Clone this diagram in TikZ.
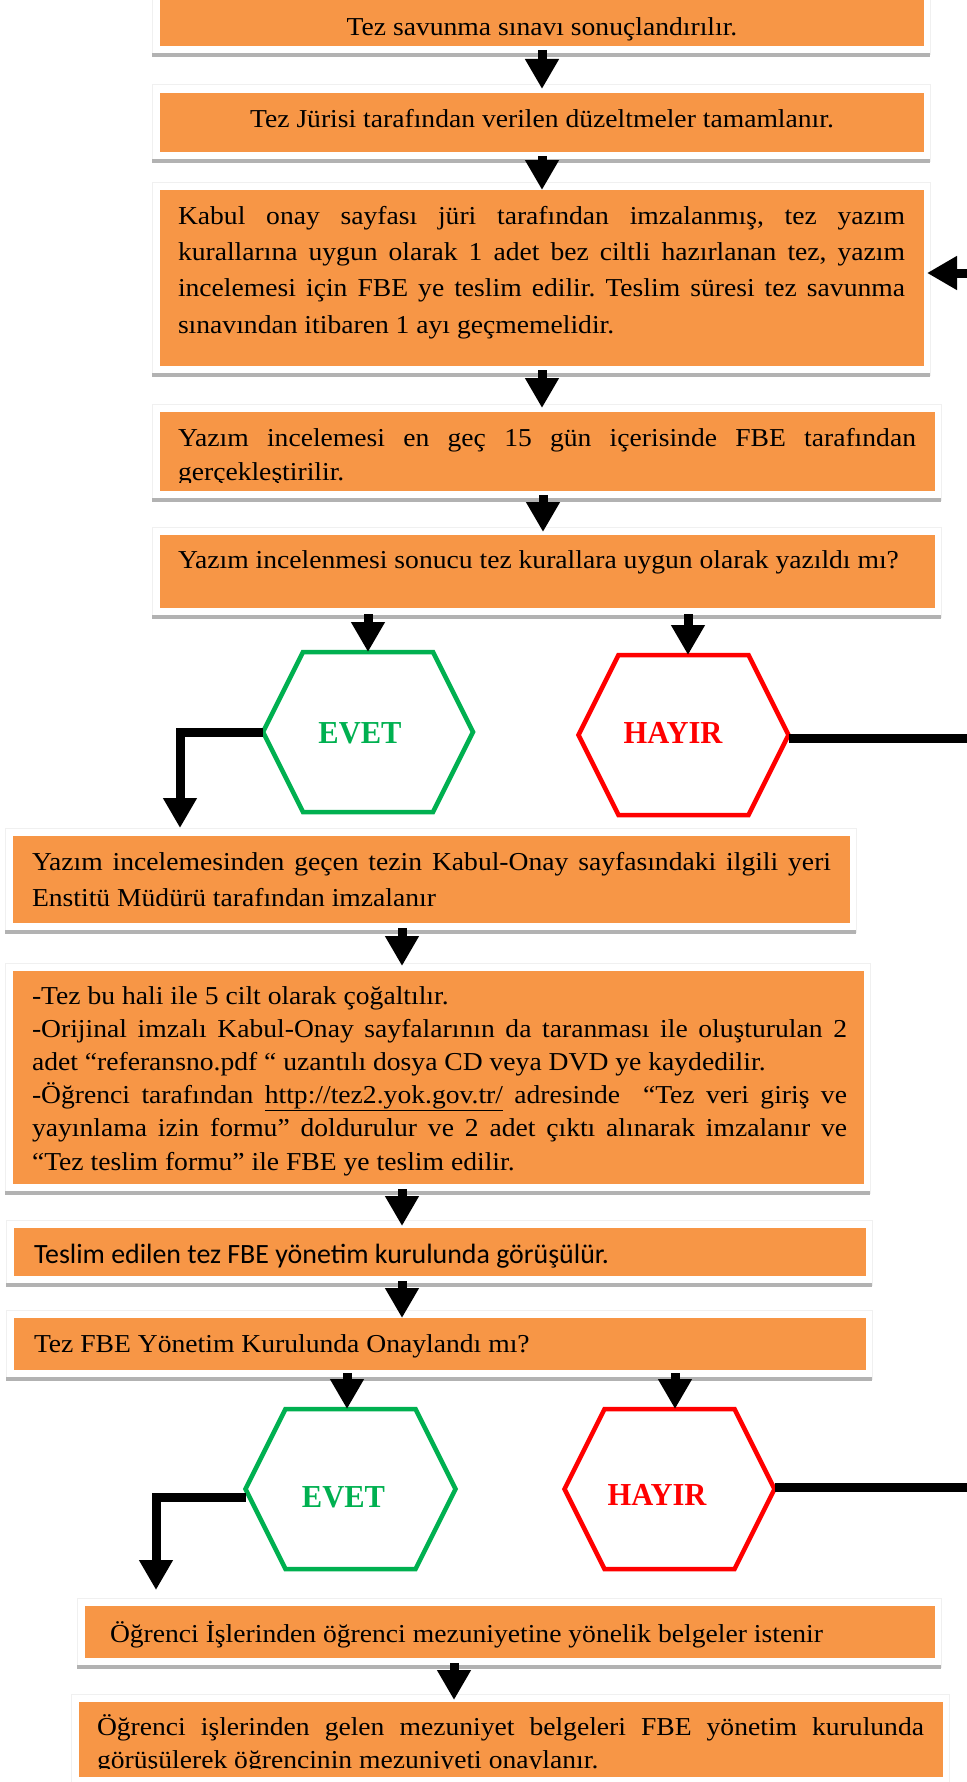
\documentclass[tikz,border=0pt]{standalone}
\usepackage{fontspec}
\setmainfont{Liberation Serif}[FakeStretch=1.07]
\newfontfamily\calibrifont{Carlito}
\newfontfamily\choicefont{Liberation Serif}[FakeStretch=0.953]
\usetikzlibrary{arrows.meta}

\definecolor{boxorange}{HTML}{F79646}
\definecolor{yesgreen}{HTML}{00B050}
\definecolor{nored}{HTML}{FF0000}

\tikzset{
  flowbox/.style={fill=boxorange, draw=none, anchor=north west, inner sep=0pt, outer sep=0pt},
  boxtext/.style={anchor=base west, inner sep=0pt, outer sep=0pt, font=\fontsize{25.8}{30}\selectfont},
  centertext/.style={anchor=base, inner sep=0pt, outer sep=0pt, font=\fontsize{25.8}{30}\selectfont},
  flowarrow/.style={line width=9pt, -{Triangle[length=30pt,width=32pt]}, line join=miter},
  connector/.style={line width=9pt, line join=miter},
  hexnode/.style={minimum width=210pt, minimum height=160pt, inner sep=0pt, outer sep=0pt},
  hexedge/.style={line width=4.5pt, line join=miter},
  choice/.style={font=\choicefont\fontsize{32}{32}\selectfont\bfseries, inner sep=0pt, outer sep=0pt},
  ruleline/.style={line width=4pt, draw=gray!60},
  framebox/.style={draw=gray!12, line width=1pt}
}

% orange step box with its faint frame and grey base rule
\newcommand\flowstep[5]{%
  \node[flowbox, minimum width=#4pt, minimum height=#5pt] (#1) at (#2,#3) {};
  \draw[framebox] ([xshift=-8pt,yshift=8pt]#1.north west) rectangle ([xshift=6pt,yshift=-9pt]#1.south east);
  \draw[ruleline] ([xshift=-8pt,yshift=-9pt]#1.south west) -- ([xshift=6pt,yshift=-9pt]#1.south east);
}
% decision hexagon: name, centre x, centre y, colour
\newcommand\hexagonal[4]{%
  \node[hexnode] (#1) at (#2,#3) {};
  \draw[hexedge, draw=#4] ([xshift=40pt]#1.north west) -- ([xshift=-40pt]#1.north east)
    -- (#1.east) -- ([xshift=-40pt]#1.south east) -- ([xshift=40pt]#1.south west)
    -- (#1.west) -- cycle;
}
% text blocks: stacked lines with a fixed baseline distance
\newcommand\textlines[2]{\vtop{\baselineskip=#1\lineskip=0pt\lineskiplimit=-\maxdimen #2}}
\newcommand\fillline[2]{\hbox to #1{#2}}
\newcommand\plainline[1]{\hbox{#1}}

\begin{document}
\frenchspacing
\begin{tikzpicture}[x=1pt, y=-1pt]
\useasboundingbox (0,0) rectangle (966,1782);

% ---- step boxes ----
\flowstep{b1}{160}{-6}{764}{52}
\flowstep{b2}{160}{93}{764}{59}
\flowstep{b3}{160}{190}{764}{176}
\flowstep{b4}{160}{412}{775}{79}
\flowstep{b5}{160}{535}{775}{73}
\flowstep{b6}{13}{836}{837}{87}
\flowstep{b7}{13}{971}{851}{213}
\flowstep{b8}{14}{1228}{852}{48}
\flowstep{b9}{14}{1318}{852}{52}
\flowstep{b10}{85}{1606}{850}{52}
\flowstep{b11}{79}{1702}{864}{75}

% ---- box texts ----
\node[centertext] (t1) at (542,36) {Tez savunma sınavı sonuçlandırılır.};
\node[centertext] (t2) at (542,128) {Tez Jürisi tarafından verilen düzeltmeler tamamlanır.};
\node[boxtext] (t3) at (178,224) {\textlines{36.4pt}{%
  \fillline{727pt}{Kabul onay sayfası jüri tarafından imzalanmış, tez yazım}
  \fillline{727pt}{kurallarına uygun olarak 1 adet bez ciltli hazırlanan tez, yazım}
  \fillline{727pt}{incelemesi için FBE ye teslim edilir. Teslim süresi tez savunma}
  \plainline{sınavından itibaren 1 ayı geçmemelidir.}}};
\begin{scope}
  \clip (150,405) rectangle (945,482);
  \node[boxtext] (t4) at (178,446) {\textlines{34.5pt}{%
    \fillline{738pt}{Yazım incelemesi en geç 15 gün içerisinde FBE tarafından}
    \plainline{gerçekleştirilir.}}};
\end{scope}
\node[boxtext] (t5) at (178,568) {Yazım incelenmesi sonucu tez kurallara uygun olarak yazıldı mı?};
\node[boxtext] (t6) at (32,870) {\textlines{36pt}{%
  \fillline{799pt}{Yazım incelemesinden geçen tezin Kabul-Onay sayfasındaki ilgili yeri}
  \plainline{Enstitü Müdürü tarafından imzalanır}}};
\node[boxtext] (t7) at (32,1004) {\textlines{33.2pt}{%
  \plainline{-Tez bu hali ile 5 cilt olarak çoğaltılır.}
  \fillline{815pt}{-Orijinal imzalı Kabul-Onay sayfalarının da taranması ile oluşturulan 2}
  \plainline{adet “referansno.pdf “ uzantılı dosya CD veya DVD ye kaydedilir.}
  \fillline{815pt}{-Öğrenci tarafından \underline{http://tez2.yok.gov.tr/} adresinde\ \ “Tez veri giriş ve}
  \fillline{815pt}{yayınlama izin formu” doldurulur ve 2 adet çıktı alınarak imzalanır ve}
  \plainline{“Tez teslim formu” ile FBE ye teslim edilir.}}};
\node[boxtext, font=\calibrifont\fontsize{27.9}{30}\selectfont] (t8) at (34,1263) {Teslim edilen tez FBE yönetim kurulunda görüşülür.};
\node[boxtext] (t9) at (34,1352) {Tez FBE Yönetim Kurulunda Onaylandı mı?};
\node[boxtext] (t10) at (110,1642) {Öğrenci İşlerinden öğrenci mezuniyetine yönelik belgeler istenir};
\begin{scope}
  \clip (70,1695) rectangle (950,1768);
  \node[boxtext] (t11) at (97,1735) {\textlines{33.2pt}{%
    \fillline{827pt}{Öğrenci işlerinden gelen mezuniyet belgeleri FBE yönetim kurulunda}
    \plainline{görüşülerek öğrencinin mezuniyeti onaylanır.}}};
\end{scope}

% ---- decision hexagons ----
\hexagonal{evet1}{368}{732}{yesgreen}
\hexagonal{hayir1}{683.5}{735}{nored}
\hexagonal{evet2}{350.5}{1489}{yesgreen}
\hexagonal{hayir2}{669.5}{1489}{nored}
\node[choice, text=yesgreen] (evet1-label) at (360,733) {EVET};
\node[choice, text=nored] (hayir1-label) at (673,733) {HAYIR};
\node[choice, text=yesgreen] (evet2-label) at (343.5,1497.5) {EVET};
\node[choice, text=nored] (hayir2-label) at (657,1494.5) {HAYIR};

% ---- free ends at the right margin ----
\coordinate (back-in) at (975,273);
\coordinate (no-out1) at (975,738.5);
\coordinate (no-out2) at (975,1487);

% ---- connectors ----
\draw[flowarrow, shorten <=4pt, shorten >=4pt] (b1.south -| 542,0) -- (b2.north -| 542,0);
\draw[flowarrow, shorten <=4pt] (b2.south -| 542,0) -- (b3.north -| 542,0);
\draw[flowarrow, shorten <=4pt, shorten >=4pt] (b3.south -| 542,0) -- (b4.north -| 542,0);
\draw[flowarrow, shorten <=4pt, shorten >=3pt] (b4.south -| 543,0) -- (b5.north -| 543,0);
\draw[flowarrow, shorten <=6pt] (b5.south -| 368,0) -- (evet1.north -| 368,0);
\draw[flowarrow, shorten <=6pt] (b5.south -| 688,0) -- (hayir1.north -| 688,0);
\draw[flowarrow, shorten >=8pt] (evet1.west) -| (b6.north -| 180,0);
\draw[connector] ([yshift=-3.5pt]hayir1.east) -- (no-out1);
\draw[flowarrow, shorten >=3pt] (back-in) -- (b3.east |- back-in);
\draw[flowarrow, shorten <=5pt, shorten >=5pt] (b6.south -| 402,0) -- (b7.north -| 402,0);
\draw[flowarrow, shorten <=5pt, shorten >=2pt] (b7.south -| 402,0) -- (b8.north -| 402,0);
\draw[flowarrow, shorten <=5pt] (b8.south -| 402,0) -- (b9.north -| 402,0);
\draw[flowarrow, shorten <=3pt] (b9.south -| 347,0) -- (evet2.north -| 347,0);
\draw[flowarrow, shorten <=3pt] (b9.south -| 675,0) -- (hayir2.north -| 675,0);
\draw[flowarrow, shorten >=16pt] ([yshift=-8pt]evet2.west) -| (b10.north -| 156,0);
\draw[connector] ([yshift=2pt]hayir2.east) -- (no-out2);
\draw[flowarrow, shorten <=5pt, shorten >=2pt] (b10.south -| 454,0) -- (b11.north -| 454,0);
\end{tikzpicture}
\end{document}
